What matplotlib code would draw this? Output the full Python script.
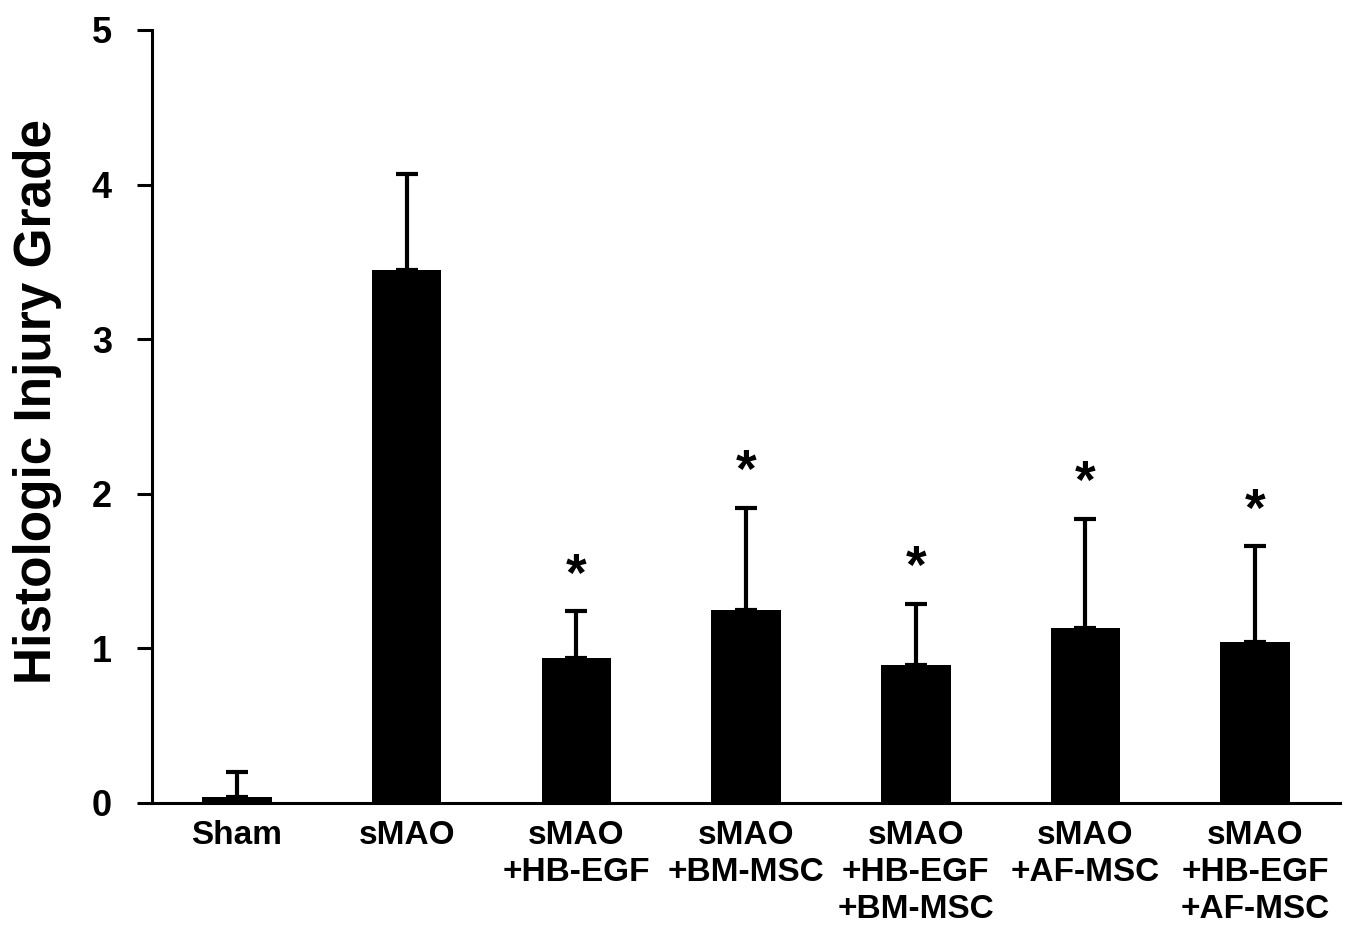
import numpy as np
import matplotlib.pyplot as plt

plt.rcParams['font.family'] = ['Liberation Sans', 'DejaVu Sans']
plt.rcParams['font.weight'] = 'bold'

groups = ['Sham', 'sMAO', 'sMAO\n+HB-EGF', 'sMAO\n+BM-MSC', 'sMAO\n+HB-EGF\n+BM-MSC',
          'sMAO\n+AF-MSC', 'sMAO\n+HB-EGF\n+AF-MSC']
means = [0.04, 3.45, 0.94, 1.25, 0.89, 1.13, 1.04]
sds = [0.16, 0.62, 0.30, 0.66, 0.40, 0.71, 0.62]
signif = [False, False, True, True, True, True, True]

fig = plt.figure(figsize=(13.5, 9.31), dpi=100)
ax = fig.add_axes([0.1126, 0.1375, 0.88, 0.8303])

x = np.arange(len(groups))
ax.bar(x, means, width=0.41, color='black', zorder=2)
ax.errorbar(x, means, yerr=[np.zeros(len(sds)), sds], fmt='none', ecolor='black',
            elinewidth=3, capsize=8, capthick=3, zorder=3)

for i in range(len(groups)):
    if signif[i]:
        ax.text(x[i], means[i] + sds[i] + 0.06, '*', ha='center', va='bottom',
                fontsize=38, fontweight='bold')

ax.set_xlim(-0.5, 6.5)
ax.set_ylim(0, 5)
ax.set_yticks([0, 1, 2, 3, 4, 5])
ax.set_xticks(x)
ax.set_xticklabels(groups, fontsize=24, fontweight='bold', linespacing=1.25)
ax.tick_params(axis='x', length=0, pad=12)
ax.tick_params(axis='y', length=11, width=2.2, labelsize=26, pad=18)
for t in ax.get_yticklabels():
    t.set_fontweight('bold')
ax.set_ylabel('Histologic Injury Grade', fontsize=37, fontweight='bold')
ax.yaxis.set_label_coords(-0.076, 0.519)
ax.spines['top'].set_visible(False)
ax.spines['right'].set_visible(False)
ax.spines['left'].set_linewidth(2.2)
ax.spines['bottom'].set_linewidth(2.2)

plt.savefig('out.png', dpi=100)
